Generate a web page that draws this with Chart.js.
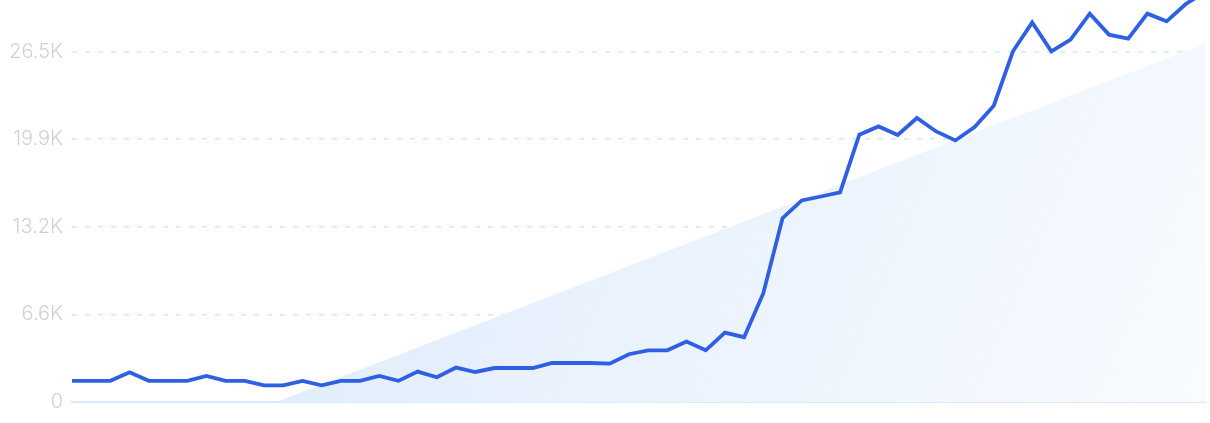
<!DOCTYPE html>
<html>
<head>
<meta charset="utf-8">
<script src="https://cdn.jsdelivr.net/npm/chart.js@4/dist/chart.umd.min.js"></script>
<style>
  html, body { margin: 0; padding: 0; background: #fff; }
  #wrap { width: 1210px; height: 423px; }
</style>
</head>
<body>
<div id="wrap"><canvas id="trendChart"></canvas></div>
<script>
// monthly values
const values = [
  1600, 1600, 1600, 2250, 1600, 1600, 1600, 1970, 1600, 1600,
  1260, 1260, 1600, 1260, 1600, 1600, 1970, 1600, 2300, 1870,
  2600, 2270, 2570, 2570, 2570, 2950, 2950, 2950, 2900, 3610,
  3910, 3910, 4570, 3910, 5250, 4900, 8230, 13900, 15240, 15540,
  15850, 20210, 20840, 20190, 21480, 20460, 19780, 20800, 22410, 26520,
  28710, 26520, 27400, 29370, 27780, 27480, 29370, 28790, 30100, 31000
];

// start and end of the shaded trend wedge
const trendEnds = [-5960, 27100];

const tickValues = [0, 6625, 13250, 19875, 26500];
const tickLabels = ["0", "6.6K", "13.2K", "19.9K", "26.5K"];

const labels = values.map((v, i) => String(i + 1));
const trendData = values.map((v, i) =>
  i === 0 ? trendEnds[0] : i === values.length - 1 ? trendEnds[1] : null
);

const canvas = document.getElementById("trendChart");

function wedgeFill(ctx) {
  const area = ctx.chart.chartArea;
  if (!area) return "rgba(225,237,252,0.8)";
  const g = ctx.chart.ctx.createLinearGradient(area.left + 200, area.top, area.right, area.bottom);
  g.addColorStop(0, "rgba(222,235,251,1)");
  g.addColorStop(1, "rgba(248,251,255,1)");
  return g;
}

new Chart(canvas, {
  type: "line",
  data: {
    labels: labels,
    datasets: [
      {
        data: values,
        borderColor: "#2f5fe3",
        borderWidth: 3.8,
        pointRadius: 0,
        tension: 0,
        fill: false,
        order: 0,
      },
      {
        data: trendData,
        spanGaps: true,
        borderWidth: 0,
        borderColor: "rgba(0,0,0,0)",
        backgroundColor: wedgeFill,
        pointRadius: 0,
        fill: "origin",
        order: 1,
      },
    ],
  },
  options: {
    responsive: true,
    maintainAspectRatio: false,
    animation: false,
    layout: { padding: { right: 5, top: 0 } },
    plugins: {
      legend: { display: false },
      tooltip: { enabled: false },
    },
    scales: {
      x: {
        display: true,
        grid: { display: false, drawTicks: false },
        ticks: { display: false },
        border: { display: true, color: "#d8eafb", width: 2 },
        afterFit: (scale) => { scale.height = 21; },
      },
      y: {
        min: 0,
        max: 30400,
        afterBuildTicks: (scale) => {
          scale.ticks = tickValues.map((v) => ({ value: v }));
        },
        ticks: {
          padding: 9,
          color: "#d0d1d7",
          font: { family: "Inter", size: 20, weight: "300" },
          callback: (value) => tickLabels[tickValues.indexOf(value)],
        },
        grid: {
          drawTicks: false,
          tickLength: 0,
          lineWidth: 1.5,
          color: (c) => (c.tick && c.tick.value === 0 ? "rgba(0,0,0,0)" : "#d3e7fb"),
        },
        border: { display: false, dash: [5, 8] },
        afterFit: (scale) => {
          scale.width = 72;
          scale.paddingTop = 0;
          scale.paddingBottom = 0;
        },
      },
    },
  },
});
</script>
</body>
</html>
